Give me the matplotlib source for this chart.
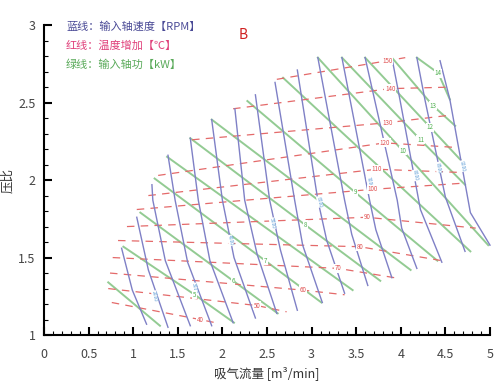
import matplotlib
matplotlib.use('Agg')
import matplotlib.pyplot as plt
from matplotlib.ticker import MultipleLocator

plt.rcParams['font.family'] = ['Noto Sans CJK SC', 'DejaVu Sans']

# 蓝线：等转速线 (吸气流量, 压比)
speed_labels = ['1500', '2000', '2500', '3000', '3500', '4000', '4500', '5000',
                '5500', '6000', '6500', '7000', '7500', '8000', '8500', '9000']
speed_x = [
    [0.87, 0.99, 1.15],
    [1.04, 1.17, 1.39],
    [1.21, 1.22, 1.36, 1.64],
    [1.39, 1.47, 1.61, 1.88],
    [1.64, 1.73, 1.86, 2.12],
    [1.88, 2.00, 2.13, 2.37],
    [2.14, 2.25, 2.39, 2.61],
    [2.37, 2.53, 2.65, 2.84],
    [2.59, 2.81, 2.90, 3.12],
    [2.84, 3.07, 3.17, 3.37],
    [3.07, 3.37, 3.45, 3.63],
    [3.34, 3.65, 3.72, 3.90],
    [3.60, 3.96, 4.01, 4.18],
    [3.90, 3.99, 4.22, 4.46],
    [4.18, 4.27, 4.50, 4.72],
    [4.44, 4.55, 4.78, 5.00],
]
speed_y = [
    [1.56, 1.29, 1.07],
    [1.76, 1.42, 1.05],
    [1.97, 1.87, 1.48, 1.06],
    [2.16, 1.87, 1.47, 1.06],
    [2.27, 1.87, 1.48, 1.08],
    [2.39, 1.87, 1.50, 1.11],
    [2.46, 1.87, 1.52, 1.14],
    [2.55, 1.87, 1.55, 1.16],
    [2.63, 1.87, 1.58, 1.21],
    [2.71, 1.87, 1.61, 1.27],
    [2.79, 1.87, 1.65, 1.32],
    [2.79, 1.87, 1.68, 1.37],
    [2.79, 1.87, 1.69, 1.43],
    [2.79, 2.52, 1.81, 1.47],
    [2.79, 2.52, 1.89, 1.54],
    [2.77, 2.52, 1.79, 1.58],
]
# 线上标注的位置
speed_tag_idx = [1, 3, 5, 7, 9, 11, 13, 14, 15]
speed_tag_x = [1.24, 1.69, 2.09, 2.56, 3.09, 3.65, 4.16, 4.42, 4.69]
speed_tag_y = [1.25, 1.30, 1.61, 1.72, 1.86, 1.99, 2.03, 2.08, 2.09]

# 红线：温度增加
temp_labels = ['40', '50', '60', '70', '80', '90', '100', '110', '120', '130', '140', '150']
temp_x = [
    [0.76, 1.75, 1.92],
    [0.72, 2.39, 2.72],
    [0.74, 2.90, 3.37],
    [0.77, 3.30, 3.93],
    [0.83, 3.54, 4.46],
    [0.93, 3.62, 4.84],
    [1.04, 3.68, 4.70],
    [1.17, 3.73, 4.63],
    [1.28, 3.82, 4.63],
    [1.66, 3.85, 4.57],
    [2.12, 3.88, 4.57],
    [2.61, 3.85, 4.05],
]
temp_y = [
    [1.21, 1.10, 1.08],
    [1.30, 1.19, 1.15],
    [1.40, 1.29, 1.26],
    [1.50, 1.43, 1.37],
    [1.61, 1.57, 1.48],
    [1.70, 1.76, 1.69],
    [1.81, 1.94, 1.98],
    [1.90, 2.07, 2.05],
    [2.03, 2.24, 2.21],
    [2.26, 2.37, 2.42],
    [2.46, 2.59, 2.60],
    [2.65, 2.77, 2.79],
]

# 绿线：输入轴功
power_x = [
    [0.72, 1.30],
    [0.89, 1.69, 2.13],
    [1.08, 2.12, 2.62],
    [1.24, 2.48, 3.11],
    [1.38, 3.46],
    [1.64, 2.93, 3.77],
    [1.88, 4.11],
    [2.28, 3.49, 4.41],
    [2.68, 4.78],
    [3.07, 4.02, 4.98],
    [3.34, 4.22, 4.72],
    [3.60, 4.33, 4.67],
    [3.90, 4.36, 4.61],
    [4.18, 4.42, 4.55],
]
power_y = [
    [1.34, 1.06],
    [1.57, 1.26, 1.08],
    [1.79, 1.35, 1.14],
    [2.01, 1.48, 1.21],
    [2.15, 1.29],
    [2.27, 1.71, 1.35],
    [2.39, 1.42],
    [2.51, 1.92, 1.48],
    [2.66, 1.54],
    [2.79, 2.19, 1.58],
    [2.79, 2.26, 1.97],
    [2.79, 2.34, 2.13],
    [2.79, 2.48, 2.35],
    [2.79, 2.69, 2.52],
]
# 带数值标注的绿线 (序号, 功率)
power_tag_idx = [1, 2, 3, 5, 7, 9, 10, 11, 12, 13]
power_tag_val = ['5', '6', '7', '8', '9', '10', '11', '12', '13', '14']

blue = '#7f80c6'
red = '#e46a6a'
green = '#93cb93'

fig = plt.figure(figsize=(5.0, 3.86), dpi=100)
ax = fig.add_axes([0.088, 0.132, 0.892, 0.803])

for xs, ys in zip(power_x, power_y):
    ax.plot(xs, ys, color=green, lw=1.4, clip_on=False)
for xs, ys in zip(temp_x, temp_y):
    ax.plot(xs, ys, color=red, lw=0.9, ls=(0, (6, 5)), clip_on=False)
for xs, ys in zip(speed_x, speed_y):
    ax.plot(xs, ys, color=blue, lw=1.0, clip_on=False)

for i, tx, ty in zip(speed_tag_idx, speed_tag_x, speed_tag_y):
    ax.text(tx, ty, speed_labels[i], color='#5b9bd5', fontsize=3.5, rotation=-79,
            ha='center', va='center',
            bbox=dict(boxstyle='square,pad=0.05', fc='white', ec='none'))
for lab, xs, ys in zip(temp_labels, temp_x, temp_y):
    ax.text(xs[1], ys[1], lab, color='#e05050', fontsize=4.5, ha='center', va='center',
            bbox=dict(boxstyle='square,pad=0.1', fc='white', ec='none'))
for i, lab in zip(power_tag_idx, power_tag_val):
    ax.text(power_x[i][1], power_y[i][1], lab, color='#50b050', fontsize=4.5,
            ha='center', va='center',
            bbox=dict(boxstyle='square,pad=0.1', fc='white', ec='none'))

ax.set_xlim(0, 5)
ax.set_ylim(1, 3)
ax.xaxis.set_major_locator(MultipleLocator(0.5))
ax.xaxis.set_minor_locator(MultipleLocator(0.1))
ax.yaxis.set_major_locator(MultipleLocator(0.5))
ax.yaxis.set_minor_locator(MultipleLocator(0.1))
ax.xaxis.set_major_formatter(plt.FuncFormatter(lambda v, p: f'{v:g}'))
ax.yaxis.set_major_formatter(plt.FuncFormatter(lambda v, p: f'{v:g}'))
for s in ['top', 'right']:
    ax.spines[s].set_visible(False)
for s in ['left', 'bottom']:
    ax.spines[s].set_linewidth(1.5)
ax.tick_params(which='major', direction='in', length=6, width=1.5,
               labelsize=9, labelcolor='#444444', pad=6)
ax.tick_params(which='minor', direction='in', length=3, width=0.8)
ax.tick_params(axis='x', which='major', pad=9)

ax.set_xlabel('吸气流量 [m³/min]', fontsize=9, color='#333333', labelpad=4)
ax.set_ylabel('压比', fontsize=9, color='#333333', labelpad=3)

fig.text(0.132, 0.930, '蓝线：输入轴速度【RPM】', color='#4a4a96', fontsize=8, va='center')
fig.text(0.132, 0.881, '红线：温度增加【℃】', color='#e0407a', fontsize=8, va='center')
fig.text(0.132, 0.832, '绿线：输入轴功【kW】', color='#5aaa5a', fontsize=8, va='center')
fig.text(0.486, 0.909, 'B', color='#d02020', fontsize=10, ha='center', va='center')

fig.savefig('out.png', dpi=100)
